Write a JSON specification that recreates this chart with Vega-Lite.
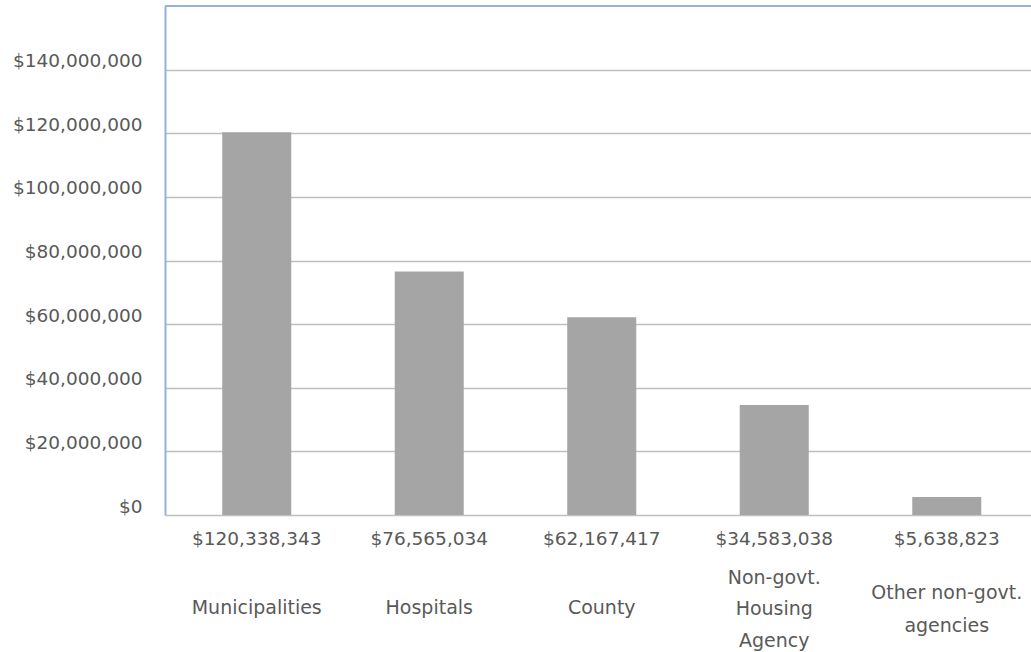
{
  "$schema": "https://vega.github.io/schema/vega-lite/v6.json",
  "width": 866,
  "height": 509,
  "autosize": {"type": "none"},
  "padding": {"left": 165, "top": 6, "right": 0, "bottom": 137},
  "background": "white",
  "config": {
    "view": {"stroke": null},
    "font": "DejaVu Sans",
    "axis": {"labelFont": "DejaVu Sans", "labelColor": "#595959"}
  },
  "data": {
    "values": [
      {"category": "Municipalities", "amount": 120338343, "amountLabel": "$120,338,343"},
      {"category": "Hospitals", "amount": 76565034, "amountLabel": "$76,565,034"},
      {"category": "County", "amount": 62167417, "amountLabel": "$62,167,417"},
      {"category": "Non-govt. Housing Agency", "amount": 34583038, "amountLabel": "$34,583,038"},
      {"category": "Other non-govt. agencies", "amount": 5638823, "amountLabel": "$5,638,823"}
    ]
  },
  "layer": [
    {
      "mark": {"type": "bar", "color": "#a5a5a5"},
      "encoding": {
        "x": {
          "field": "amountLabel",
          "type": "nominal",
          "sort": null,
          "scale": {"paddingInner": 0.6, "paddingOuter": 0.31, "align": 0.535},
          "axis": {
            "orient": "bottom",
            "title": null,
            "domain": false,
            "ticks": false,
            "labelAngle": 0,
            "labelFontSize": 18.5,
            "labelPadding": 14,
            "labelBaseline": "top",
            "labelOverlap": false,
            "labelLimit": 0
          }
        },
        "y": {
          "field": "amount",
          "type": "quantitative",
          "scale": {"domain": [0, 160000000], "nice": false},
          "axis": {
            "title": null,
            "values": [0, 20000000, 40000000, 60000000, 80000000, 100000000, 120000000, 140000000],
            "format": "$,.0f",
            "ticks": false,
            "domain": true,
            "domainColor": "#93b3dc",
            "domainWidth": 2,
            "grid": true,
            "gridColor": "#bfbfbf",
            "gridWidth": 1.6,
            "labelFontSize": 18.5,
            "labelPadding": 23,
            "labelOffset": -9
          }
        }
      }
    },
    {
      "mark": {"type": "bar", "opacity": 0},
      "encoding": {
        "x": {
          "field": "category",
          "type": "nominal",
          "sort": null,
          "scale": {"paddingInner": 0.6, "paddingOuter": 0.31, "align": 0.535},
          "axis": {
            "orient": "bottom",
            "title": null,
            "domain": false,
            "ticks": false,
            "grid": false,
            "labelAngle": 0,
            "labelFontSize": 19,
            "labelPadding": 92,
            "labelBaseline": "middle",
            "labelOverlap": false,
            "labelLimit": 0,
            "labelExpr": "indexof(['Municipalities', 'Hospitals', 'County'], datum.value) >= 0 ? datum.value : ''"
          }
        },
        "y": {"field": "amount", "type": "quantitative"}
      }
    },
    {
      "mark": {"type": "bar", "opacity": 0},
      "encoding": {
        "x": {
          "field": "category",
          "type": "nominal",
          "sort": null,
          "scale": {"paddingInner": 0.6, "paddingOuter": 0.31, "align": 0.535},
          "axis": {
            "orient": "bottom",
            "title": null,
            "domain": false,
            "ticks": false,
            "grid": false,
            "labelAngle": 0,
            "labelFontSize": 19,
            "labelPadding": 62,
            "labelBaseline": "middle",
            "labelLineHeight": 31.5,
            "labelOverlap": false,
            "labelLimit": 0,
            "labelExpr": "datum.value == 'Non-govt. Housing Agency' ? ['Non-govt.', 'Housing', 'Agency'] : ''"
          }
        },
        "y": {"field": "amount", "type": "quantitative"}
      }
    },
    {
      "mark": {"type": "bar", "opacity": 0},
      "encoding": {
        "x": {
          "field": "category",
          "type": "nominal",
          "sort": null,
          "scale": {"paddingInner": 0.6, "paddingOuter": 0.31, "align": 0.535},
          "axis": {
            "orient": "bottom",
            "title": null,
            "domain": false,
            "ticks": false,
            "grid": false,
            "labelAngle": 0,
            "labelFontSize": 19,
            "labelPadding": 77,
            "labelBaseline": "middle",
            "labelLineHeight": 33,
            "labelOverlap": false,
            "labelLimit": 0,
            "labelExpr": "datum.value == 'Other non-govt. agencies' ? ['Other non-govt.', 'agencies'] : ''"
          }
        },
        "y": {"field": "amount", "type": "quantitative"}
      }
    },
    {
      "mark": {"type": "rule", "color": "#93b3dc", "strokeWidth": 2},
      "encoding": {
        "y": {"datum": 160000000, "type": "quantitative"}
      }
    }
  ],
  "resolve": {"scale": {"x": "independent"}, "axis": {"x": "independent"}}
}
